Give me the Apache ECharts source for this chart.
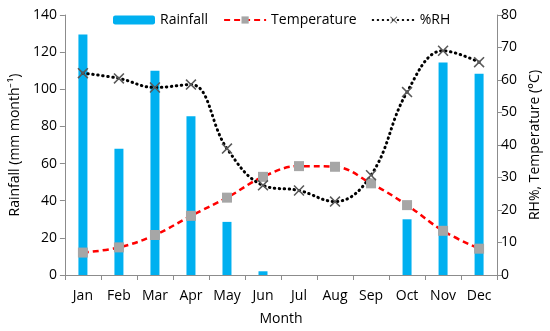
<!DOCTYPE html>
<html>
<head>
<meta charset="utf-8">
<script src="https://cdn.jsdelivr.net/npm/echarts@6/dist/echarts.min.js"></script>
<style>html,body{margin:0;padding:0;background:#fff}#c{width:550px;height:331px}</style>
</head>
<body>
<div id="c"></div>
<script>
const months = ['Jan','Feb','Mar','Apr','May','Jun','Jul','Aug','Sep','Oct','Nov','Dec'];
const rainfall = [129.5, 68, 110, 85.5, 28.6, 2, 0, 0, 0, 30, 114.4, 108.4];
const temperature = [6.9, 8.5, 12.3, 18.2, 23.8, 30.2, 33.5, 33.3, 28.2, 21.5, 13.6, 8.1];
const rh = [62.1, 60.5, 57.7, 58.6, 38.9, 27.6, 26, 22.6, 30.7, 56.3, 69, 65.5];

const font = 'Open Sans';
const axisCol = '#8c8c8c';
const xSym = 'path://M0,1L1,0L5,4L9,0L10,1L6,5L10,9L9,10L5,6L1,10L0,9L4,5Z';

const chart = echarts.init(document.getElementById('c'));
chart.setOption({
  animation: false,
  textStyle: {fontFamily: font},
  legend: {
    top: 8, left: 108,
    itemWidth: 42, itemHeight: 9, itemGap: 15,
    textStyle: {fontFamily: font, fontSize: 14, color: '#000'},
    data: ['Rainfall', 'Temperature', '%RH']
  },
  grid: {left: 60, right: 43, top: 15, bottom: 55},
  xAxis: {
    type: 'category', data: months,
    name: 'Month', nameLocation: 'middle', nameGap: 37,
    nameTextStyle: {fontSize: 14, color: '#000', fontFamily: font},
    axisLine: {lineStyle: {color: axisCol, width: 1}},
    axisTick: {show: true, alignWithLabel: false, length: 5, lineStyle: {color: axisCol}},
    axisLabel: {fontSize: 14, color: '#000', margin: 14, fontFamily: font}
  },
  yAxis: [{
    type: 'value', min: 0, max: 140, interval: 20,
    name: 'Rainfall (mm month\u207B\u00B9)', nameLocation: 'middle', nameGap: 38, nameRotate: 90,
    nameTextStyle: {fontSize: 14, color: '#000', fontFamily: font},
    splitLine: {show: false},
    axisLine: {show: true, lineStyle: {color: axisCol}},
    axisTick: {show: true, length: 5, lineStyle: {color: axisCol}},
    axisLabel: {fontSize: 14, color: '#000', margin: 8, fontFamily: font}
  }, {
    type: 'value', min: 0, max: 80, interval: 10, position: 'right',
    name: 'RH%, Temperature (\u00B0C)', nameLocation: 'middle', nameGap: 27, nameRotate: 90,
    nameTextStyle: {fontSize: 14, color: '#000', fontFamily: font},
    splitLine: {show: false},
    axisLine: {show: true, lineStyle: {color: axisCol}},
    axisTick: {show: true, length: 5, lineStyle: {color: axisCol}},
    axisLabel: {fontSize: 14, color: '#000', margin: 4, fontFamily: font}
  }],
  series: [{
    name: 'Rainfall', type: 'bar', data: rainfall, yAxisIndex: 0,
    barWidth: 9, itemStyle: {color: '#00B0F0'}
  }, {
    name: 'Temperature', type: 'line', data: temperature, yAxisIndex: 1,
    smooth: 0.4, symbol: 'rect', symbolSize: 10,
    itemStyle: {color: '#A6A6A6'},
    lineStyle: {color: '#FF0000', width: 2.5, type: [6, 4]}
  }, {
    name: '%RH', type: 'line', data: rh, yAxisIndex: 1,
    smooth: 0.4, symbol: xSym, symbolSize: 11,
    itemStyle: {color: '#595959'},
    lineStyle: {color: '#000', width: 3, type: [0.5, 4.5], cap: 'round'}
  }]
});
</script>
</body>
</html>
